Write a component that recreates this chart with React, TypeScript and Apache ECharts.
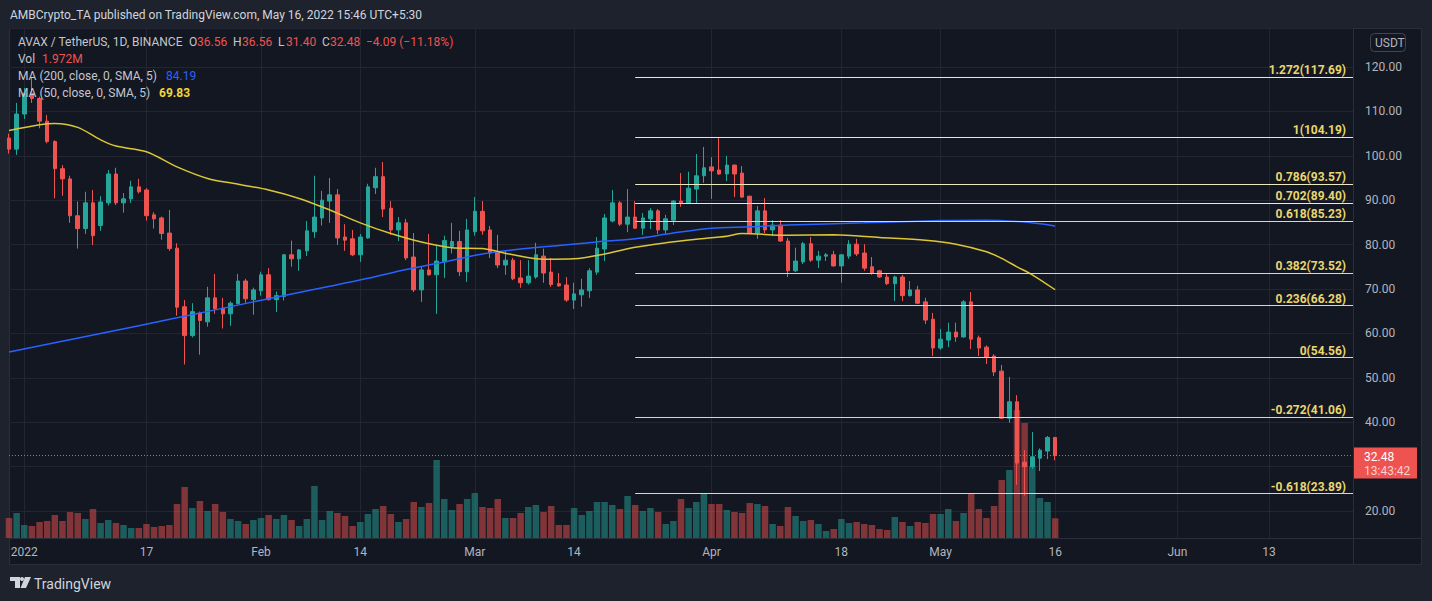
import React, { useEffect, useRef } from 'react';
import * as echarts from 'echarts';

const startDate = '2021-12-30';
const endDate = '2022-06-24';

// daily candles from 2021-12-30 to 2022-05-16: [open, close, low, high]
const candles: number[][] = [
  [104.0, 101.5, 100.5, 105.0], // 12-30
  [101.5, 109.4, 100.2, 111.9],
  [109.4, 114.1, 108.3, 115.3], // 01-01
  [114.1, 112.9, 111.9, 117.7],
  [112.9, 107.8, 106.2, 113.3],
  [107.8, 103.2, 102.8, 109.2],
  [103.2, 97.1, 90.4, 103.5],
  [97.1, 94.8, 91.0, 97.9],
  [94.8, 86.5, 84.9, 95.5],
  [86.5, 83.6, 79.1, 89.7],
  [83.6, 89.4, 82.4, 91.9],
  [89.4, 82.0, 79.9, 92.3], // 01-10
  [84.3, 89.6, 83.1, 90.9],
  [89.4, 95.9, 88.8, 96.8],
  [95.9, 89.4, 88.9, 97.3],
  [89.4, 90.3, 87.2, 91.6],
  [90.3, 93.0, 89.4, 94.4],
  [93.0, 91.9, 91.5, 94.8],
  [92.3, 86.5, 85.4, 92.7],
  [86.7, 85.8, 83.6, 87.3],
  [86.0, 82.5, 81.1, 86.3],
  [82.6, 79.1, 78.6, 87.8], // 01-20
  [79.2, 65.9, 64.0, 80.3],
  [66.0, 59.5, 53.0, 67.5],
  [59.5, 64.9, 59.1, 66.8],
  [64.6, 62.9, 55.2, 64.9],
  [62.6, 68.0, 61.5, 70.5],
  [68.0, 65.6, 64.4, 73.4],
  [65.7, 64.4, 61.1, 68.0],
  [64.4, 66.8, 61.7, 67.2],
  [66.7, 71.8, 66.5, 73.4],
  [71.8, 67.8, 66.9, 72.3], // 01-30
  [67.6, 69.8, 64.2, 70.3],
  [69.6, 73.2, 68.5, 73.9], // 02-01
  [73.2, 67.6, 67.4, 74.7],
  [67.6, 68.5, 64.8, 69.4],
  [68.3, 77.7, 67.4, 77.9],
  [77.7, 76.8, 75.0, 80.9],
  [76.8, 78.8, 74.1, 79.0],
  [78.6, 83.1, 77.4, 85.3],
  [82.9, 86.2, 81.5, 95.5],
  [86.0, 90.0, 84.3, 92.1],
  [89.8, 91.2, 84.9, 95.0], // 02-10
  [91.2, 81.5, 79.9, 92.5],
  [81.7, 81.0, 78.6, 84.6],
  [81.3, 77.7, 77.4, 83.3],
  [77.7, 81.7, 76.1, 82.4],
  [81.5, 93.0, 81.3, 93.7],
  [92.8, 95.3, 91.4, 97.3],
  [95.3, 88.0, 86.2, 98.6],
  [88.2, 83.3, 82.2, 89.8],
  [83.3, 84.9, 80.8, 86.2],
  [84.9, 77.0, 76.5, 85.8], // 02-20
  [77.2, 69.8, 69.3, 82.6],
  [69.8, 74.3, 67.1, 75.0],
  [74.3, 73.2, 73.0, 82.4],
  [73.2, 76.3, 64.4, 79.7],
  [76.1, 80.9, 72.5, 82.0],
  [79.6, 80.7, 78.0, 84.9],
  [80.7, 73.9, 72.9, 83.1],
  [73.9, 83.3, 71.6, 85.8],
  [82.9, 87.5, 82.0, 90.7], // 03-01
  [87.5, 83.1, 82.2, 89.8],
  [83.3, 78.1, 77.0, 84.2],
  [78.3, 75.4, 74.7, 82.2],
  [75.4, 76.5, 73.2, 78.6],
  [76.5, 72.3, 72.0, 77.0],
  [72.5, 71.4, 70.3, 76.5],
  [71.4, 72.9, 71.0, 76.5],
  [72.7, 77.7, 72.3, 80.4],
  [77.4, 73.6, 71.4, 79.1], // 03-10
  [73.8, 71.0, 70.5, 77.0],
  [71.2, 70.7, 70.5, 73.6],
  [70.9, 67.5, 67.1, 72.7],
  [67.5, 68.9, 65.5, 71.4],
  [68.7, 69.8, 66.0, 72.3],
  [69.6, 74.1, 68.0, 74.7],
  [73.8, 79.2, 73.2, 81.7],
  [79.0, 86.0, 76.3, 86.9],
  [85.3, 89.4, 85.0, 92.3],
  [89.4, 84.6, 84.2, 89.8], // 03-20
  [84.6, 86.2, 82.8, 92.5],
  [86.2, 83.7, 83.5, 89.8],
  [83.7, 86.0, 82.2, 87.1],
  [85.8, 87.6, 83.5, 88.2],
  [87.6, 83.3, 82.4, 88.0],
  [83.3, 85.8, 82.4, 86.7],
  [85.5, 89.8, 84.4, 90.0],
  [89.8, 89.4, 88.5, 96.1],
  [89.4, 92.7, 89.2, 96.4],
  [92.5, 95.5, 89.4, 100.4], // 03-30
  [95.5, 97.3, 93.9, 102.0],
  [97.5, 96.6, 90.3, 99.7], // 04-01
  [96.8, 95.9, 95.7, 104.19],
  [95.9, 97.9, 94.3, 100.0],
  [97.9, 95.9, 90.7, 98.0],
  [96.1, 90.7, 90.5, 97.7],
  [90.9, 82.6, 82.4, 91.0],
  [82.6, 87.6, 81.3, 88.7],
  [87.6, 83.3, 82.6, 90.5],
  [83.3, 84.4, 81.9, 85.5],
  [84.4, 80.8, 80.6, 85.5], // 04-10
  [80.8, 74.1, 72.7, 81.5],
  [74.1, 76.3, 73.8, 79.3],
  [76.1, 80.2, 75.6, 80.6],
  [80.2, 76.5, 76.1, 81.7],
  [76.5, 77.4, 74.7, 78.6],
  [77.4, 77.7, 76.3, 78.1],
  [77.7, 75.2, 75.0, 78.6],
  [75.2, 77.7, 71.4, 77.9],
  [77.4, 80.1, 76.8, 81.0],
  [80.1, 77.9, 77.4, 81.3], // 04-20
  [78.1, 74.7, 74.1, 80.1],
  [75.0, 73.6, 73.2, 77.2],
  [74.1, 72.7, 72.5, 74.3],
  [72.7, 71.2, 70.9, 73.4],
  [71.2, 72.7, 67.3, 73.0],
  [72.7, 68.5, 67.3, 73.2],
  [68.5, 69.8, 68.3, 71.8],
  [69.8, 66.8, 66.6, 70.7],
  [67.1, 63.0, 62.1, 68.0],
  [63.2, 56.7, 54.9, 64.6], // 04-30
  [56.7, 58.7, 56.3, 61.0], // 05-01
  [58.5, 60.3, 56.9, 62.4],
  [60.3, 59.2, 58.1, 62.4],
  [59.2, 67.1, 59.0, 67.5],
  [67.1, 58.7, 56.5, 69.3],
  [59.0, 56.7, 54.9, 59.5],
  [56.9, 54.7, 53.1, 57.3],
  [54.9, 51.3, 50.4, 55.3],
  [51.5, 40.9, 40.7, 52.9],
  [40.9, 44.6, 39.9, 50.2], // 05-10
  [44.6, 30.8, 25.9, 46.1],
  [31.0, 30.0, 23.5, 33.7],
  [30.0, 32.2, 29.5, 37.8],
  [31.9, 33.7, 29.0, 34.1],
  [33.5, 36.57, 31.7, 36.9],
  [36.56, 32.48, 31.4, 36.56], // 05-16
];

// volume in millions, same days
const volumes: number[] = [
  2.0, 2.5,
  1.3, 1.2, 1.6, 1.7, 2.3, 1.7, 2.6, 2.5, 1.9, 2.9,
  1.5, 1.8, 1.5, 1.3, 1.0, 1.0, 1.4, 1.1, 1.2, 1.3,
  3.4, 5.1, 3.0, 3.7, 2.7, 3.4, 2.6, 1.9, 1.7, 1.4, 1.8,
  2.0, 2.3, 1.9, 2.3, 1.8, 1.2, 1.9, 5.2, 1.8, 2.7,
  2.5, 2.2, 1.2, 1.6, 2.4, 2.9, 3.2, 2.4, 1.6, 1.9,
  3.6, 3.1, 3.5, 7.8, 3.9, 2.8, 3.4, 3.9,
  4.5, 3.1, 3.0, 3.9, 2.0, 2.0, 2.5, 3.1, 3.3, 2.6,
  3.2, 1.3, 1.3, 3.0, 2.3, 2.7, 3.6, 3.6, 3.3, 2.9,
  4.2, 3.3, 2.7, 3.0, 2.6, 1.4, 1.7, 3.9, 3.0, 3.6, 4.4,
  3.4, 3.4, 2.8, 2.6, 2.5, 3.5, 3.4, 3.2, 1.4, 1.2,
  3.1, 2.2, 1.7, 1.8, 1.4, 0.7, 0.9, 1.9, 1.5, 1.6,
  1.4, 1.3, 0.9, 0.8, 2.1, 1.6, 1.2, 1.6, 1.5, 2.4,
  2.4, 2.9, 1.7, 2.5, 4.4, 2.9, 2.0, 3.2, 5.8, 6.8,
  12.8, 11.5, 7.2, 4.0, 3.6, 1.972,
];

const ma200Points: [string, number][] = [
  ['2021-12-30', 55.8], ['2022-01-11', 60.0], ['2022-01-21', 63.5], ['2022-01-31', 67.1],
  ['2022-02-10', 70.6], ['2022-02-15', 72.4], ['2022-02-20', 74.4], ['2022-02-25', 76.1],
  ['2022-03-02', 77.9], ['2022-03-07', 79.0], ['2022-03-12', 79.8], ['2022-03-17', 80.6],
  ['2022-03-22', 81.3], ['2022-03-27', 82.6], ['2022-04-01', 83.7], ['2022-04-06', 84.0],
  ['2022-04-11', 84.4], ['2022-04-21', 84.9], ['2022-05-01', 85.4], ['2022-05-07', 85.5],
  ['2022-05-11', 85.2], ['2022-05-14', 84.7], ['2022-05-16', 84.19],
];

const ma50Points: [string, number][] = [
  ['2021-12-30', 105.7], ['2022-01-03', 107.0], ['2022-01-05', 107.3], ['2022-01-08', 106.4],
  ['2022-01-11', 103.6], ['2022-01-13', 102.2], ['2022-01-17', 100.9], ['2022-01-21', 97.5],
  ['2022-01-25', 94.9], ['2022-01-29', 93.6], ['2022-02-02', 92.3], ['2022-02-06', 90.4],
  ['2022-02-10', 87.8], ['2022-02-14', 84.9], ['2022-02-18', 82.5], ['2022-02-22', 80.6],
  ['2022-02-26', 79.3], ['2022-03-02', 79.1], ['2022-03-06', 77.7], ['2022-03-10', 76.7],
  ['2022-03-14', 76.8], ['2022-03-18', 77.9], ['2022-03-22', 79.4], ['2022-03-26', 80.4],
  ['2022-03-30', 81.2], ['2022-04-03', 81.9], ['2022-04-05', 82.5], ['2022-04-11', 82.1],
  ['2022-04-17', 82.2], ['2022-04-23', 81.6], ['2022-04-29', 81.0], ['2022-05-03', 80.1],
  ['2022-05-07', 78.4], ['2022-05-09', 76.9], ['2022-05-11', 75.0], ['2022-05-13', 73.2],
  ['2022-05-16', 69.83],
];

const fibRatios = ['1.272', '1', '0.786', '0.702', '0.618', '0.382', '0.236', '0', '-0.272', '-0.618'];
const fibValues = [117.69, 104.19, 93.57, 89.4, 85.23, 73.52, 66.28, 54.56, 41.06, 23.89];
const fibStart = '2022-03-22';

const tickDates = ['2022-01-01', '2022-01-17', '2022-02-01', '2022-02-14', '2022-03-01', '2022-03-14',
  '2022-04-01', '2022-04-18', '2022-05-01', '2022-05-16', '2022-06-01', '2022-06-13'];
const tickLabels = ['2022', '17', 'Feb', '14', 'Mar', '14', 'Apr', '18', 'May', '16', 'Jun', '13'];

const UP = '#26a69a';
const DOWN = '#ef5350';
const FONT = 'Roboto';
const AXIS_TEXT = '#b2b5be';
const GRID_LINE = '#232632';
const BORDER = '#2a2e39';
const FIB_LIGHT = '#ece8bf';
const FIB = '#f0dd6a';
const FIB_TEXT = '#e9d66e';

function buildDates(start: string, end: string): string[] {
  const out: string[] = [];
  const d = new Date(start + 'T00:00:00Z');
  const e = new Date(end + 'T00:00:00Z');
  while (d.getTime() <= e.getTime()) {
    out.push(d.toISOString().slice(0, 10));
    d.setUTCDate(d.getUTCDate() + 1);
  }
  return out;
}

const dates = buildDates(startDate, endDate);
const last = candles[candles.length - 1];
const prevClose = candles[candles.length - 2][1];
const lastClose = last[1];
const change = lastClose - prevClose;
const changePct = (change / prevClose) * 100;
const minus = (s: string) => s.replace('-', '\u2212');

function buildOption(): any {
  const volData = volumes.map((v, i) => ({
    value: v,
    itemStyle: { color: candles[i][1] >= candles[i][0] ? 'rgba(38,166,154,0.5)' : 'rgba(239,83,80,0.5)' },
  }));

  const fibLines = fibValues.map((v, i) => [
    {
      coord: [fibStart, v],
      lineStyle: { color: i < 4 ? FIB_LIGHT : FIB, width: 1, type: 'solid' },
      label: { formatter: `${fibRatios[i]}(${v.toFixed(2)})` },
    },
    { coord: [dates[dates.length - 1], v] },
  ]);

  const isTick = (_i: number, v: string) => tickDates.indexOf(v) >= 0;

  return {
    animation: false,
    backgroundColor: 'transparent',
    textStyle: { fontFamily: FONT },
    grid: [
      { left: 9, right: 79, top: 28, bottom: 63, outerBoundsMode: 'none' },
      { left: 9, right: 79, top: 338, bottom: 63, outerBoundsMode: 'none' },
    ],
    xAxis: [
      {
        type: 'category', gridIndex: 0, data: dates, boundaryGap: false,
        axisLine: { show: false }, axisTick: { show: false },
        axisLabel: {
          interval: isTick,
          formatter: (v: string) => { const k = tickDates.indexOf(v); return k >= 0 ? tickLabels[k] : ''; },
          color: AXIS_TEXT, fontSize: 12, fontFamily: FONT, margin: 8,
        },
        splitLine: { show: true, interval: isTick, lineStyle: { color: GRID_LINE, width: 1 } },
      },
      {
        type: 'category', gridIndex: 1, data: dates, boundaryGap: false, show: false,
      },
    ],
    yAxis: [
      {
        type: 'value', gridIndex: 0, position: 'right', min: 13.92, max: 128.78, splitNumber: 12,
        axisLine: { show: false }, axisTick: { show: false },
        axisLabel: {
          color: AXIS_TEXT, fontSize: 12, fontFamily: FONT, margin: 12,
          showMinLabel: false, showMaxLabel: false,
          // labels hidden where the last-price box covers them
          formatter: (v: number) =>
            Math.abs(v - Math.round(v / 10) * 10) > 1e-6 || Math.abs(v - lastClose) < 4 ? '' : v.toFixed(2),
        },
        splitLine: { show: true, lineStyle: { color: GRID_LINE, width: 1 } },
      },
      { type: 'value', gridIndex: 1, min: 0, max: 20, show: false, splitLine: { show: false } },
    ],
    series: [
      {
        name: 'Vol', type: 'bar', xAxisIndex: 1, yAxisIndex: 1, data: volData,
        barWidth: 6.5, z: 1, silent: true,
      },
      {
        name: 'AVAX', type: 'candlestick', xAxisIndex: 0, yAxisIndex: 0, data: candles,
        barWidth: 4, z: 3, silent: true,
        itemStyle: { color: UP, color0: DOWN, borderColor: UP, borderColor0: DOWN, borderWidth: 1 },
        markLine: {
          silent: true, animation: false, symbol: ['none', 'none'], z: 6,
          lineStyle: { width: 1, type: 'solid' },
          label: {
            show: true, position: 'insideEndTop', color: FIB_TEXT, fontSize: 12,
            fontWeight: 'bold', fontFamily: FONT, distance: [7, 1],
          },
          data: [
            ...fibLines,
            { yAxis: lastClose, lineStyle: { color: DOWN, type: [1, 2], width: 1 }, label: { show: false } },
          ],
        },
      },
      {
        name: 'MA200', type: 'line', xAxisIndex: 0, yAxisIndex: 0, data: ma200Points,
        showSymbol: false, smooth: 0.3, z: 4, silent: true,
        lineStyle: { color: '#2962ff', width: 1.5 },
      },
      {
        name: 'MA50', type: 'line', xAxisIndex: 0, yAxisIndex: 0, data: ma50Points,
        showSymbol: false, smooth: 0.3, z: 4, silent: true,
        lineStyle: { color: '#dcc637', width: 1.5 },
      },
    ],
  };
}

function txt(x: number, y: number, text: string, fill: string, size = 12, weight: string = 'normal', z = 50): any {
  return {
    type: 'text', x, y, z, silent: true,
    style: { text, fill, fontSize: size, fontFamily: FONT, fontWeight: weight, verticalAlign: 'middle', align: 'left' },
  };
}

function buildGraphics(py: number): any[] {
  const legendGrey = '#c3c6ce';
  const fmt = (v: number) => v.toFixed(2);
  return [
    {
      type: 'rect', z: -100, silent: true,
      shape: { x: 9.5, y: 28.5, width: 1412, height: 536 },
      style: { fill: '#131722', stroke: BORDER, lineWidth: 1 },
    },
    { type: 'line', z: 10, silent: true, shape: { x1: 1353.5, y1: 28, x2: 1353.5, y2: 565 }, style: { stroke: BORDER, lineWidth: 1 } },
    { type: 'line', z: 10, silent: true, shape: { x1: 9, y1: 538.5, x2: 1422, y2: 538.5 }, style: { stroke: BORDER, lineWidth: 1 } },
    txt(10, 15, 'AMBCrypto_TA published on TradingView.com, May 16, 2022 15:46 UTC+5:30', '#d1d4dc', 12),
    txt(18, 42, 'AVAX / TetherUS, 1D, BINANCE', legendGrey),
    txt(189, 42, 'O', legendGrey),
    txt(197, 42, fmt(last[0]), DOWN),
    txt(233, 42, 'H', legendGrey),
    txt(242, 42, fmt(last[3]), DOWN),
    txt(278, 42, 'L', legendGrey),
    txt(286, 42, fmt(last[2]), DOWN),
    txt(322, 42, 'C', legendGrey),
    txt(330, 42, fmt(lastClose), DOWN),
    txt(366, 42, `${minus(change.toFixed(2))} (${minus(changePct.toFixed(2))}%)`, DOWN),
    txt(18, 59, 'Vol', legendGrey),
    txt(42, 59, `${volumes[volumes.length - 1].toFixed(3)}M`, DOWN),
    txt(18, 76, 'MA (200, close, 0, SMA, 5)', legendGrey),
    txt(166, 76, fmt(ma200Points[ma200Points.length - 1][1]), '#2962ff'),
    txt(18, 92.5, 'MA (50, close, 0, SMA, 5)', legendGrey),
    txt(159, 92.5, fmt(ma50Points[ma50Points.length - 1][1]), '#f2d53c', 12, 'bold'),
    {
      type: 'rect', z: 50, silent: true,
      shape: { x: 1370.5, y: 33.5, width: 35, height: 18, r: 4 },
      style: { fill: 'transparent', stroke: '#434651', lineWidth: 1 },
    },
    txt(1375, 42.5, 'USDT', AXIS_TEXT, 12),
    {
      type: 'rect', z: 100, silent: true,
      shape: { x: 1354, y: py - 8, width: 63, height: 31 },
      style: { fill: DOWN },
    },
    txt(1364, py + 1, fmt(lastClose), '#ffffff', 12, 'normal', 101),
    txt(1364, py + 15, '13:43:42', '#fbd0cf', 12, 'normal', 101),
    {
      type: 'polygon', z: 50, silent: true,
      shape: { points: [[10, 577], [20, 577], [20, 588], [15, 588], [15, 581], [10, 581]] },
      style: { fill: '#d1d4dc' },
    },
    { type: 'circle', z: 50, silent: true, shape: { cx: 22, cy: 579, r: 2 }, style: { fill: '#d1d4dc' } },
    {
      type: 'polygon', z: 50, silent: true,
      shape: { points: [[25, 577], [31, 577], [26, 588], [20.5, 588]] },
      style: { fill: '#d1d4dc' },
    },
    txt(34, 583.5, 'TradingView', '#d1d4dc', 14),
  ];
}

export default function App() {
  const ref = useRef<HTMLDivElement>(null);
  useEffect(() => {
    document.body.style.margin = '0';
    document.body.style.background = '#1e222d';
    const chart = echarts.init(ref.current as HTMLDivElement, null, { renderer: 'svg', width: 1432, height: 601 });
    chart.setOption(buildOption());
    const py = chart.convertToPixel({ yAxisIndex: 0 }, lastClose) as unknown as number;
    chart.setOption({ graphic: { elements: buildGraphics(py) } });
    return () => chart.dispose();
  }, []);
  return (
    <div
      ref={ref}
      style={{ position: 'absolute', left: 0, top: 0, width: 1432, height: 601, background: '#1e222d' }}
    />
  );
}
